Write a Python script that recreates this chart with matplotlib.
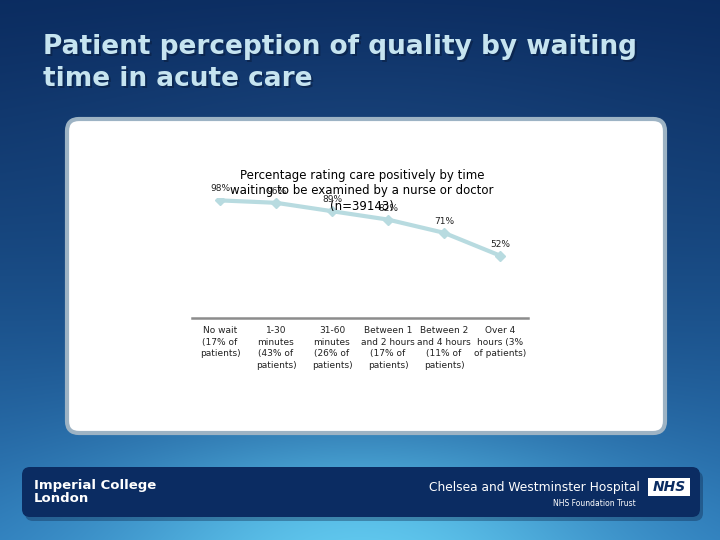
import numpy as np
import matplotlib.pyplot as plt
from matplotlib.patches import FancyBboxPatch

# Data
categories = ["No wait\n(17% of\npatients)",
              "1-30\nminutes\n(43% of\npatients)",
              "31-60\nminutes\n(26% of\npatients)",
              "Between 1\nand 2 hours\n(17% of\npatients)",
              "Between 2\nand 4 hours\n(11% of\npatients)",
              "Over 4\nhours (3%\nof patients)"]
pct_positive = [98, 96, 89, 82, 71, 52]

W, H = 720, 540
fig = plt.figure(figsize=(W / 100, H / 100), dpi=100)

# Slide background: blue gradient, lighter towards bottom centre
bg = fig.add_axes([0, 0, 1, 1])
bg.set_xlim(0, W)
bg.set_ylim(H, 0)
bg.axis("off")
yy, xx = np.mgrid[0:H, 0:W]
t = (yy / H) ** 1.3
top = np.array([0x0b, 0x2c, 0x60]) / 255
bot = np.array([0x2c, 0x78, 0xb8]) / 255
img = top[None, None, :] * (1 - t[..., None]) + bot[None, None, :] * t[..., None]
glow = np.exp(-(((xx - 360) / 260) ** 2 + ((yy - 560) / 120) ** 2))
light = np.array([0x60, 0xc8, 0xee]) / 255
img = img * (1 - glow[..., None]) + light[None, None, :] * glow[..., None]
glow2 = 0.25 * np.exp(-(((xx - 360) / 320) ** 2 + ((yy - 130) / 110) ** 2))
img = img * (1 - glow2[..., None]) + np.array([0x2a, 0x5a, 0x95])[None, None, :] / 255 * glow2[..., None]
bg.imshow(img, extent=(0, W, H, 0), aspect="auto", zorder=0)

# Slide title with small shadow
title = "Patient perception of quality by waiting\ntime in acute care"
bg.text(45, 36, title, color="#0a1e40", fontsize=19, fontweight="bold",
        va="top", ha="left", linespacing=1.3, zorder=2, alpha=0.6)
bg.text(43, 34, title, color="#c6e4f0", fontsize=19, fontweight="bold",
        va="top", ha="left", linespacing=1.3, zorder=3)

# White chart panel
bg.add_patch(FancyBboxPatch((67, 119), 598, 314, boxstyle="round,pad=0,rounding_size=12",
                            facecolor="white", edgecolor="#9db3c4", linewidth=3, zorder=2))

# Footer banner
bg.add_patch(FancyBboxPatch((25, 471), 678, 50, boxstyle="round,pad=0,rounding_size=8",
                            facecolor="#0a1e40", edgecolor="none", alpha=0.35, zorder=2))
bg.add_patch(FancyBboxPatch((22, 467), 678, 50, boxstyle="round,pad=0,rounding_size=8",
                            facecolor="#0b2c62", edgecolor="none", zorder=3))
bg.text(34, 492, "Imperial College\nLondon", color="white", fontsize=9.5, fontweight="bold",
        va="center", ha="left", linespacing=0.95, zorder=4)
bg.text(640, 488, "Chelsea and Westminster Hospital", color="white", fontsize=8.8,
        va="center", ha="right", zorder=4)
bg.text(636, 504, "NHS Foundation Trust", color="white", fontsize=5.5,
        va="center", ha="right", zorder=4)
bg.add_patch(plt.Rectangle((648, 478), 42, 18, facecolor="white", edgecolor="none", zorder=4))
bg.text(669, 487, "NHS", color="#0b2c62", fontsize=10, fontweight="bold", style="italic",
        va="center", ha="center", zorder=5)

# Line chart
ax = fig.add_axes([192 / W, 1 - 318 / H, 336 / W, 120 / H])
ax.patch.set_alpha(0)
x = np.arange(len(categories))
ax.plot(x, pct_positive, color="#b8dbe0", linewidth=3, marker="D", markersize=5,
        markeredgecolor="#b8dbe0", markerfacecolor="#b8dbe0")
for xi, v in zip(x, pct_positive):
    ax.annotate(f"{v}%", (xi, v), xytext=(0, 5), textcoords="offset points",
                ha="center", va="bottom", fontsize=6.5, color="#222222")
ax.set_xlim(-0.5, len(categories) - 0.5)
ax.set_ylim(0, 100)
ax.set_xticks(x)
ax.set_xticklabels(categories, fontsize=6.5, color="#222222", linespacing=1.35)
ax.tick_params(axis="x", length=0, pad=6)
ax.set_yticks([])
for side in ["top", "left", "right"]:
    ax.spines[side].set_visible(False)
ax.spines["bottom"].set_color("#8c8c8c")
ax.spines["bottom"].set_linewidth(1.8)

fig.text(362 / W, 1 - 191 / H,
         "Percentage rating care positively by time\nwaiting to be examined by a nurse or doctor\n(n=39143)",
         ha="center", va="center", fontsize=8.5, color="#000000", linespacing=1.25)

fig.savefig("out.png", dpi=100)
